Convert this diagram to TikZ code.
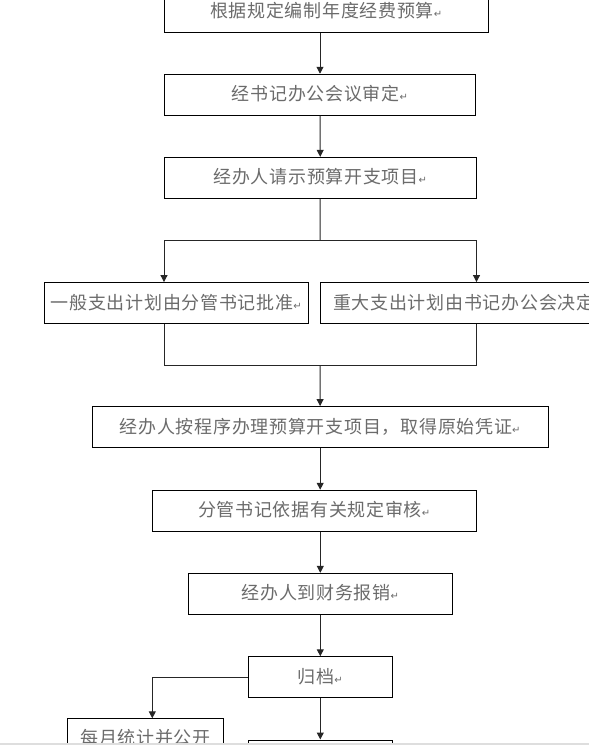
\documentclass[tikz,border=0pt]{standalone}
\usepackage{fontspec}
\usepackage{tikz}
\usetikzlibrary{arrows.meta,calc,positioning}
\newfontfamily\cjk[LetterSpace=4]{Noto Sans CJK SC}
\newfontfamily\sym{DejaVu Sans}
\newcommand{\ret}{{\sym\fontsize{10}{10}\selectfont ↵}}
\tikzset{
  box/.style={draw=black, line width=0.9pt, inner sep=0pt, minimum height=41pt,
    text=black!58, font=\cjk\fontsize{18}{18}\selectfont,
    text height=14pt, text depth=2pt},
  conn/.style={draw=black!85, line width=1pt},
  arrow/.style={conn, -{Triangle[length=7pt,width=7pt]}}
}
\begin{document}
\begin{tikzpicture}[x=1pt,y=-1pt]
        \useasboundingbox (0,0) rectangle (589,745);
        %Boxes
        \node[box, minimum width=323.7pt] (b1) at (326.2,11.8) {根据规定编制年度经费预算\ret};
        \node[box, minimum width=310.5pt] (b2) at (320,94.7) {经书记办公会议审定\ret};
        \node[box, minimum width=311.5pt] (b3) at (320.3,177.8) {经办人请示预算开支项目\ret};
        \node[box, minimum width=264pt] (b4) at (176.3,303) {一般支出计划由分管书记批准\ret};
        \node[box, minimum width=296pt] (b5) at (468,303) {重大支出计划由书记办公会决定\ret};
        \node[box, minimum width=456pt] (b6) at (320.2,427) {经办人按程序办理预算开支项目，取得原始凭证\ret};
        \node[box, minimum width=324pt] (b7) at (314.2,510.7) {分管书记依据有关规定审核\ret};
        \node[box, minimum width=264pt] (b8) at (320.3,593.8) {经办人到财务报销\ret};
        \node[box, minimum width=144pt] (b9) at (320.3,677.2) {归档\ret};
        \node[box, anchor=north, minimum width=155.6pt, minimum height=0pt,
              text height=26pt, text depth=15pt] (b10) at (145.5,718.3) {每月统计并公开};
        \node[box, anchor=north, minimum width=144pt] (b11) at (320.3,739.5) {};
        %Split and merge points
        \coordinate (split) at (320,240);
        \coordinate (j4) at (164,240);
        \coordinate (j5) at (476.5,240);
        \coordinate (k4) at (164,365.7);
        \coordinate (k5) at (476.5,365.7);
        \coordinate (merge) at (320,365.7);
        %Draw arrows
        \draw[arrow] (b2.north |- b1.south) -- (b2);
        \draw[arrow] (b2) -- (b3);
        \draw[conn] (b3) -- (split);
        \draw[conn] (j4) -- (j5);
        \draw[arrow] (j4) -- (j4 |- b4.north);
        \draw[arrow] (j5) -- (j5 |- b5.north);
        \draw[conn] (k4 |- b4.south) -- (k4) -- (k5) -- (k5 |- b5.south);
        \draw[arrow] (merge) -- (b6);
        \draw[arrow] (b6.south) -- (b6.south |- b7.north);
        \draw[arrow] (b8.north |- b7.south) -- (b8);
        \draw[arrow] (b8) -- (b9);
        \draw[arrow] (b9.west) -| ([xshift=6.8pt]b10.north);
        \draw[arrow] (b9) -- (b11);
        %Bottom strip
        \fill[black!13] (0,742.5) rectangle (589,745);
\end{tikzpicture}
\end{document}
